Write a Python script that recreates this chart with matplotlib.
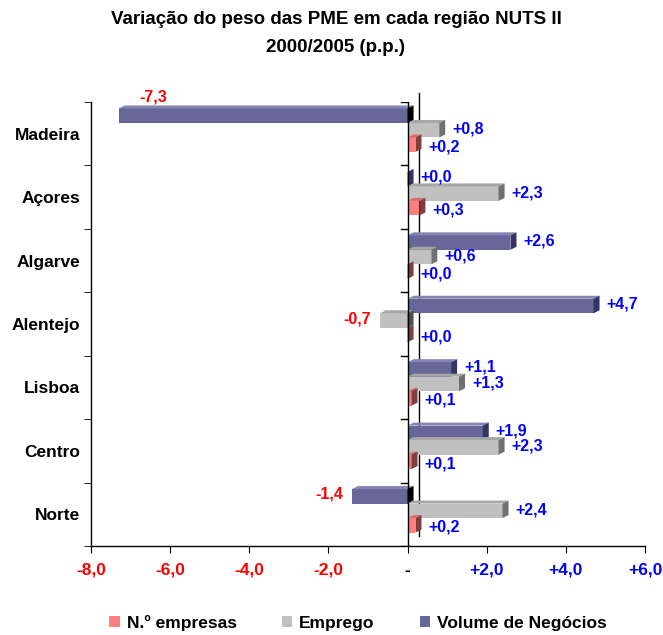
import matplotlib
matplotlib.use('Agg')
import matplotlib.pyplot as plt
from matplotlib.patches import Polygon, Patch
from matplotlib.lines import Line2D

plt.rcParams['font.family'] = ['Liberation Sans', 'DejaVu Sans']

regions = ['Madeira', 'Açores', 'Algarve', 'Alentejo', 'Lisboa', 'Centro', 'Norte']
n_empresas = [0.2, 0.3, 0.0, 0.0, 0.1, 0.1, 0.2]
emprego = [0.8, 2.3, 0.6, -0.7, 1.3, 2.3, 2.4]
volume = [-7.3, 0.0, 2.6, 4.7, 1.1, 1.9, -1.4]
series_names = ['N.º empresas', 'Emprego', 'Volume de Negócios']
xticks = [-8, -6, -4, -2, 0, 2, 4, 6]
title_lines = ['Variação do peso das PME em cada região NUTS II', '2000/2005 (p.p.)']

W, H = 663, 635
fig = plt.figure(figsize=(W / 100, H / 100), dpi=100)
ax_left, ax_right, ax_top, ax_bot = 91, 645, 102, 546
ax = fig.add_axes([ax_left / W, 1 - ax_bot / H, (ax_right - ax_left) / W, (ax_bot - ax_top) / H])
xmin, xmax = xticks[0], xticks[-1]
ax.set_xlim(xmin, xmax)
ax.set_ylim(len(regions) - 0.5, -0.5)

px_x = (xmax - xmin) / (ax_right - ax_left)
px_y = len(regions) / (ax_bot - ax_top)

h = 14.5 * px_y
dx = 6 * px_x
dy = 3 * px_y

# series drawn top to bottom within each group
series = [
    (volume, -18 * px_y, '#666699', '#8585b3', '#333366', '#000000', -2),
    (emprego, -3.5 * px_y, '#c0c0c0', '#a6a6a6', '#707070', '#505050', -1),
    (n_empresas, 11 * px_y, '#ff8080', '#d96c6c', '#804040', '#804040', 2),
]

# back wall zero line
ax.add_line(Line2D([11 * px_x, 11 * px_x], [-0.5 - 9 * px_y, len(regions) - 0.5 - 10 * px_y],
                   color='black', lw=1, zorder=0.5, clip_on=False))

lab_kw = dict(fontsize=11.5, fontweight='bold', va='center', zorder=10)


def fmt(v):
    s = f"{abs(v):.1f}".replace('.', ',')
    return ('-' if v < 0 else '+') + s


for i in range(len(regions)):
    for vals, off, cf, ct, cs, cs_neg, loff in series:
        v = vals[i]
        c = i + off
        ax.barh(c, v, height=h, color=cf, linewidth=0, zorder=2)
        x0, x1 = min(0, v), max(0, v)
        yt, yb = c - h / 2, c + h / 2
        ax.add_patch(Polygon([(x0, yt), (x1, yt), (x1 + dx, yt - dy), (x0 + dx, yt - dy)],
                             closed=True, facecolor=ct, edgecolor='none', zorder=2))
        ax.add_patch(Polygon([(x1, yt), (x1, yb), (x1 + dx, yb - dy), (x1 + dx, yt - dy)],
                             closed=True, facecolor=cs if v >= 0 else cs_neg,
                             edgecolor='none', zorder=2))
        ly = c + loff * px_y
        if v >= 0:
            ax.text(x1 + dx + 7 * px_x, ly, fmt(v), color='#0000ff', ha='left', **lab_kw)
        elif v < xmin + 2:
            ax.text(v + 35 * px_x, c - 19 * px_y, fmt(v), color='#ff0000', ha='center', **lab_kw)
        else:
            ax.text(v - 9 * px_x, ly, fmt(v), color='#ff0000', ha='right', **lab_kw)

# front zero axis with ticks
ax.add_line(Line2D([0, 0], [-0.5, len(regions) - 0.5], color='black', lw=1, zorder=3))
for b in range(len(regions) + 1):
    ax.add_line(Line2D([-7 * px_x, 0], [b - 0.5, b - 0.5], color='black', lw=1, zorder=3))

# spines and ticks
for s in ['top', 'right']:
    ax.spines[s].set_visible(False)
for s in ['left', 'bottom']:
    ax.spines[s].set_linewidth(1)
ax.set_yticks(range(len(regions)))
ax.set_yticklabels(regions, fontsize=12.5, fontweight='bold')
ax.tick_params(axis='y', which='major', length=0, pad=8)
ax.set_yticks([b - 0.5 for b in range(len(regions) + 1)], minor=True)
ax.tick_params(axis='y', which='minor', length=5, direction='out')

ax.set_xticks(xticks)
xl = []
for t in xticks:
    if t == 0:
        xl.append('-')
    else:
        xl.append(fmt(t))
ax.set_xticklabels(xl, fontsize=12.5, fontweight='bold')
for lbl, t in zip(ax.get_xticklabels(), xticks):
    lbl.set_color('#ff0000' if t < 0 else ('#0000ff' if t > 0 else 'black'))
ax.tick_params(axis='x', length=5, direction='out', pad=7)

# title
fig.text(336 / W, 1 - 20 / H, title_lines[0], ha='center', va='center', fontsize=13.5, fontweight='bold')
fig.text(336 / W, 1 - 48 / H, title_lines[1], ha='center', va='center', fontsize=13.5, fontweight='bold')

# legend
handles = [Patch(facecolor=c, edgecolor='none') for c in ['#ff8080', '#c0c0c0', '#666699']]
fig.legend(handles, series_names, loc='center', bbox_to_anchor=(358 / W, 1 - 623 / H), ncol=3,
           frameon=False, prop={'size': 12.5, 'weight': 'bold'}, handlelength=0.6, handleheight=0.6,
           handletextpad=0.4, columnspacing=2.6, borderpad=0)

fig.savefig('out.png', dpi=100)
